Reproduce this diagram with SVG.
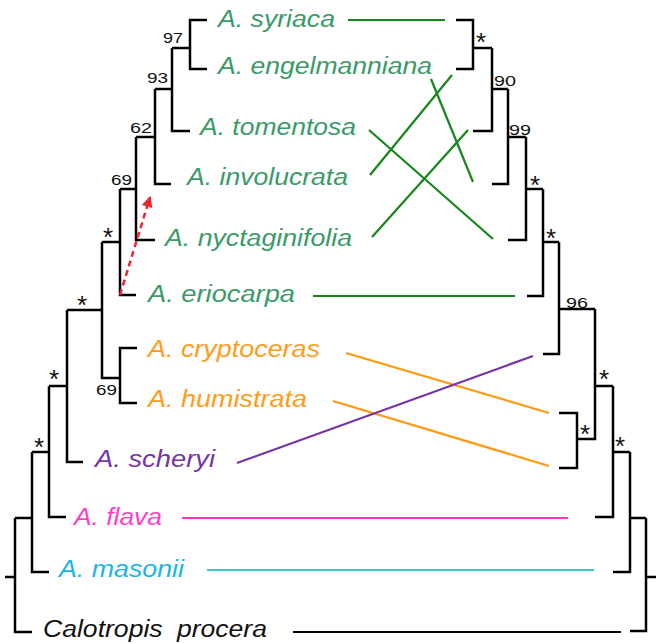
<svg xmlns="http://www.w3.org/2000/svg" width="656" height="644" viewBox="0 0 656 644">
<style>
.tree{fill:none;stroke:#000;stroke-width:2.5;stroke-linecap:butt;stroke-linejoin:miter}
.lbl{font-family:"Liberation Sans",Arial,sans-serif;font-style:italic;font-size:23px}
.num{font-family:"Liberation Sans",Arial,sans-serif;font-size:14px;fill:#111}
.ast{font-family:"Liberation Sans",Arial,sans-serif;font-size:26px;fill:#111;text-anchor:middle}
.g{fill:#3a9a68}.o{fill:#ff9c1c}.p{fill:#7535a8}.k{fill:#ff3fc8}.c{fill:#1cb4ea}.b{fill:#111}
.ln{stroke-width:2.2;fill:none}
</style>
<defs>
<marker id="ah" viewBox="0 0 10 10" refX="9" refY="5" markerWidth="5" markerHeight="4.4" orient="auto" markerUnits="strokeWidth">
<path d="M0,0 L10,5 L0,10 Z" fill="#ee2433"/>
</marker>
</defs>

<g id="left-tree" class="tree">
<path d="M207,20 H190 V69 H207 M172,48 H190 M190,131 H172 V48 M155,89 H172 M171,184 H155 V89 M136,137 H155 M155,240 H136 V137 M120,189 H136 M136,295 H120 V189 M102,242 H120 M120,378 H102 V242 M137,348 H120 V403 H137 M67,310 H102 M83,462 H67 V310 M49,386 H67 M66,517 H49 V386 M32,452 H49 M49,572 H32 V452 M15,518 H32 M32,632 H15 V518 M5,577 H15"/>
</g>

<g id="right-tree" class="tree">
<path d="M456,20 H473 V69 H456 M473,48 H492 M473,131 H492 V48 M492,89 H508 M492,184 H508 V89 M508,137 H526 M508,240 H526 V137 M526,189 H543 M527,296 H543 V189 M543,242 H559 M543,354 H559 V242 M559,309 H595 M559,413 H577 V468 H559 M577,439 H595 V309 M595,386 H613 M595,517 H613 V386 M613,452 H630 M613,572 H630 V452 M630,518 H646 M630,631 H646 V518 M646,577 H656"/>
</g>

<g id="support-values">
<text class="num" x="163" y="43" textLength="20" lengthAdjust="spacingAndGlyphs">97</text>
<text class="num" x="147" y="83" textLength="21" lengthAdjust="spacingAndGlyphs">93</text>
<text class="num" x="130" y="133" textLength="22" lengthAdjust="spacingAndGlyphs">62</text>
<text class="num" x="111" y="185" textLength="21" lengthAdjust="spacingAndGlyphs">69</text>
<text class="ast" x="108" y="246">*</text>
<text class="ast" x="82" y="314">*</text>
<text class="num" x="96" y="395" textLength="21" lengthAdjust="spacingAndGlyphs">69</text>
<text class="ast" x="54" y="388">*</text>
<text class="ast" x="39" y="456">*</text>
<text class="ast" x="481" y="51">*</text>
<text class="num" x="494" y="86" textLength="22" lengthAdjust="spacingAndGlyphs">90</text>
<text class="num" x="509" y="135" textLength="22" lengthAdjust="spacingAndGlyphs">99</text>
<text class="ast" x="535" y="194">*</text>
<text class="ast" x="551" y="247">*</text>
<text class="num" x="566" y="308" textLength="22" lengthAdjust="spacingAndGlyphs">96</text>
<text class="ast" x="604" y="388">*</text>
<text class="ast" x="585" y="443">*</text>
<text class="ast" x="620" y="455">*</text>
</g>

<g id="n-syriaca"><text class="lbl g" x="218" y="27" textLength="117" lengthAdjust="spacingAndGlyphs">A. syriaca</text></g>
<g id="n-engelmanniana"><text class="lbl g" x="218" y="74" textLength="214" lengthAdjust="spacingAndGlyphs">A. engelmanniana</text></g>
<g id="n-tomentosa"><text class="lbl g" x="200" y="135" textLength="156" lengthAdjust="spacingAndGlyphs">A. tomentosa</text></g>
<g id="n-involucrata"><text class="lbl g" x="187" y="185" textLength="161" lengthAdjust="spacingAndGlyphs">A. involucrata</text></g>
<g id="n-nyctaginifolia"><text class="lbl g" x="165" y="246" textLength="187" lengthAdjust="spacingAndGlyphs">A. nyctaginifolia</text></g>
<g id="n-eriocarpa"><text class="lbl g" x="148" y="302" textLength="147" lengthAdjust="spacingAndGlyphs">A. eriocarpa</text></g>
<g id="n-cryptoceras"><text class="lbl o" x="148" y="357" textLength="172" lengthAdjust="spacingAndGlyphs">A. cryptoceras</text></g>
<g id="n-humistrata"><text class="lbl o" x="148" y="407" textLength="159" lengthAdjust="spacingAndGlyphs">A. humistrata</text></g>
<g id="n-scheryi"><text class="lbl p" x="95" y="467" textLength="120" lengthAdjust="spacingAndGlyphs">A. scheryi</text></g>
<g id="n-flava"><text class="lbl k" x="74" y="525" textLength="88" lengthAdjust="spacingAndGlyphs">A. flava</text></g>
<g id="n-masonii"><text class="lbl c" x="59" y="577" textLength="125" lengthAdjust="spacingAndGlyphs">A. masonii</text></g>
<g id="n-calotropis"><text class="lbl b" x="43" y="637" textLength="224" lengthAdjust="spacingAndGlyphs" word-spacing="6">Calotropis procera</text></g>

<g id="connectors">
<g stroke="#14861a" class="ln">
<line x1="348" y1="20" x2="445" y2="20"/>
<line x1="431" y1="79" x2="473" y2="182"/>
<line x1="370" y1="175" x2="452" y2="75"/>
<line x1="369" y1="130" x2="493" y2="239"/>
<line x1="372" y1="237" x2="468" y2="130"/>
<line x1="313" y1="296" x2="515" y2="296"/>
</g>
<g stroke="#ff9a10" class="ln">
<line x1="346" y1="353" x2="549" y2="413"/>
<line x1="333" y1="401" x2="549" y2="466"/>
</g>
<line class="ln" stroke="#7535a8" x1="237" y1="463" x2="533" y2="356"/>
<line class="ln" stroke="#ff33cc" x1="182" y1="518" x2="568" y2="518"/>
<line class="ln" stroke="#33cccc" x1="207" y1="570" x2="594" y2="570"/>
<line class="ln" stroke="#000" x1="293" y1="632" x2="621" y2="632"/>
<line stroke="#ee2433" stroke-width="2.5" stroke-dasharray="6,4" x1="120" y1="295" x2="150" y2="197" marker-end="url(#ah)"/>
</g>
</svg>
